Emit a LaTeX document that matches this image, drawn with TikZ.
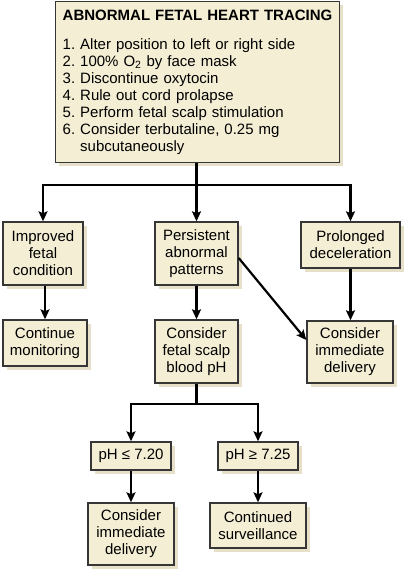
\documentclass[tikz,border=0pt]{standalone}
\usepackage{fontspec}
\setmainfont{Liberation Sans}
\usetikzlibrary{arrows.meta,shadows}
\definecolor{boxfill}{HTML}{F3EED4}
\definecolor{boxline}{HTML}{363636}
\definecolor{shade}{HTML}{E6E0C8}
\tikzset{
  fbox/.style={draw=boxline, line width=1.4pt, fill=boxfill, align=center,
    inner sep=0pt, font=\fontsize{15}{17}\selectfont\frenchspacing,
    drop shadow={shadow xshift=3.5pt, shadow yshift=-3.5pt, fill=shade, opacity=1}},
  conn/.style={line width=2.2pt, black},
  arr/.style={conn, -{Stealth[length=10pt,width=9pt,inset=2pt]}},
}
\begin{document}
\begin{tikzpicture}[x=1pt,y=-1pt]
\useasboundingbox (0,0) rectangle (405,571);
% top box
\node[fbox, minimum width=284pt, minimum height=159pt, align=left, anchor=north west,
  text width=270pt, inner xsep=7pt, inner ysep=8pt] (top) at (55,1)
  {\textbf{ABNORMAL FETAL HEART TRACING}\\[12pt]
   1. Alter position to left or right side\\
   2. 100\% O\textsubscript{2} by face mask\\
   3. Discontinue oxytocin\\
   4. Rule out cord prolapse\\
   5. Perform fetal scalp stimulation\\
   6. Consider terbutaline, 0.25 mg\\
   \hphantom{6. }subcutaneously};
% row 2
\node[fbox, minimum width=80pt, minimum height=63pt] (imp) at (43,253.5) {Improved\\fetal\\condition};
\node[fbox, minimum width=83pt, minimum height=63pt] (per) at (196.5,253.5) {Persistent\\abnormal\\patterns};
\node[fbox, minimum width=99pt, minimum height=46pt] (pro) at (350.5,245) {Prolonged\\deceleration};
% row 3
\node[fbox, minimum width=84pt, minimum height=46pt] (cont) at (45,343) {Continue\\monitoring};
\node[fbox, minimum width=83pt, minimum height=63pt] (scalp) at (196.5,351.5) {Consider\\fetal scalp\\blood pH};
\node[fbox, minimum width=86pt, minimum height=62pt] (del1) at (350,352) {Consider\\immediate\\delivery};
% row 4
\node[fbox, minimum width=80pt, minimum height=28pt] (phlo) at (131,456) {pH ≤ 7.20};
\node[fbox, minimum width=80pt, minimum height=28pt] (phhi) at (258,456) {pH ≥ 7.25};
% row 5
\node[fbox, minimum width=86pt, minimum height=62pt] (del2) at (131,534) {Consider\\immediate\\delivery};
\node[fbox, minimum width=96pt, minimum height=45pt] (surv) at (258,525.5) {Continued\\surveillance};
% connectors
\coordinate (j1) at (196.5,185);
\draw[conn] (top.south -| j1) -- (j1);
\draw[arr] (j1) -| (imp.north);
\draw[arr] (j1) -- (per.north);
\draw[arr] (j1) -| (pro.north);
\draw[arr] (imp.south -| cont.north) -- (cont.north);
\draw[arr] (per) -- (scalp);
\draw[arr] (pro) -- (pro.south |- del1.north);
\draw[arr] (per.east |- 0,258) -- (del1.west |- 0,340);
\coordinate (j2) at (196.5,404);
\draw[conn] (scalp.south) -- (j2);
\draw[arr] (j2) -| (phlo.north);
\draw[arr] (j2) -| (phhi.north);
\draw[arr] (phlo) -- (del2);
\draw[arr] (phhi) -- (surv);
\end{tikzpicture}
\end{document}
